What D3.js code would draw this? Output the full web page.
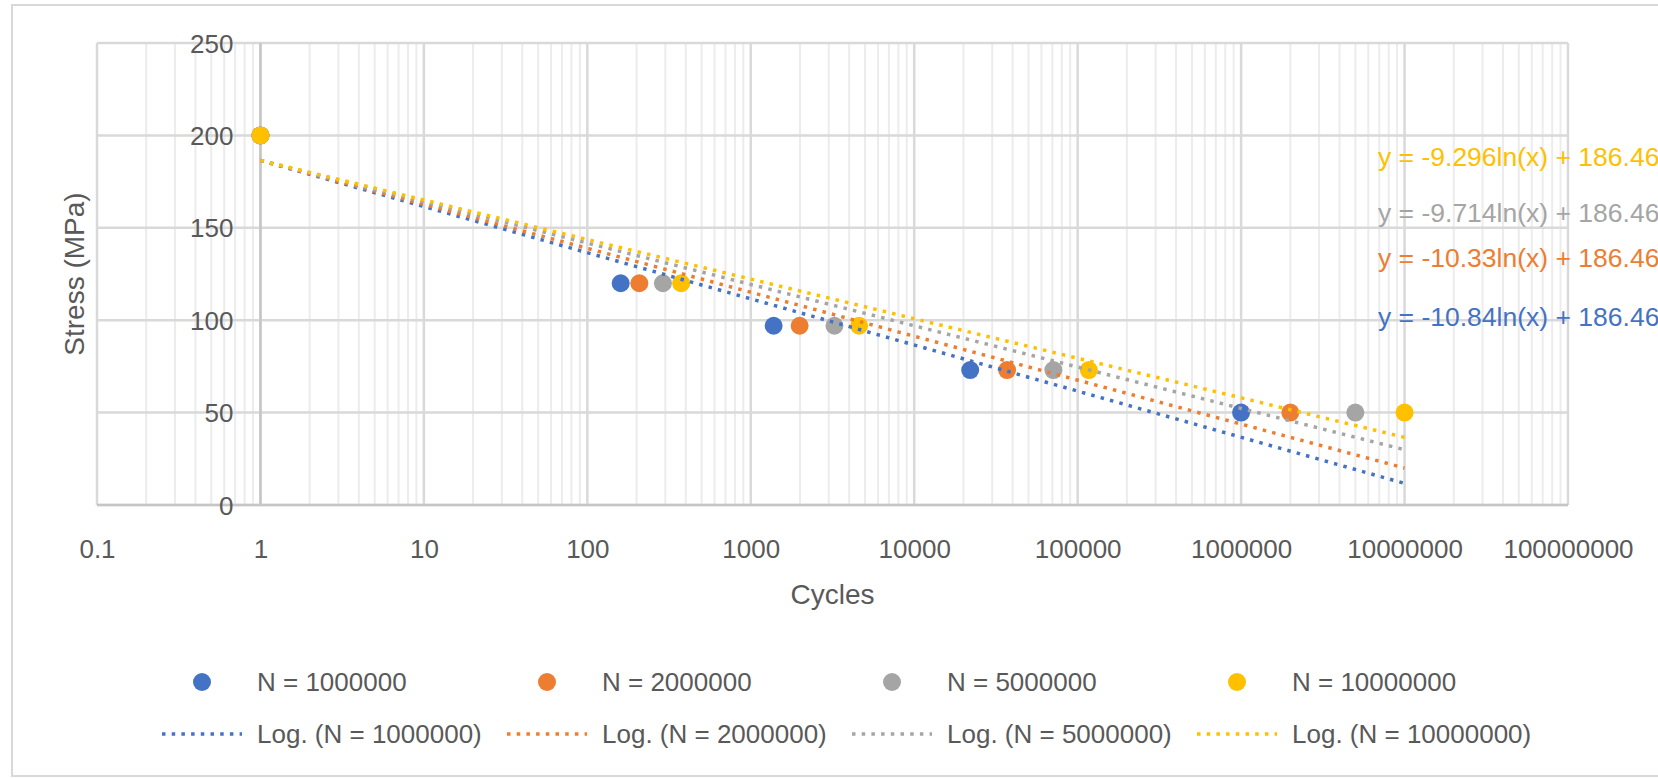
<!DOCTYPE html>
<html lang="en">
<head>
    <meta charset="UTF-8">
    <script src="https://cdn.jsdelivr.net/npm/d3@7"></script>
    <title>S-N curves</title>
    <style>
        body { margin: 0; background: #fff; }
        text { font-family: "Liberation Sans", Arial, sans-serif; fill: #595959; }
    </style>
</head>
<body>
<script>
    // Data
    const seriesNames = ["N = 1000000", "N = 2000000", "N = 5000000", "N = 10000000"];
    const stress = [200, 120, 97, 73, 50];
    const cyclesN1 = [1, 160, 1380, 22000, 1000000];
    const cyclesN2 = [1, 208, 1990, 37000, 2000000];
    const cyclesN5 = [1, 290, 3250, 71000, 5000000];
    const cyclesN10 = [1, 375, 4600, 117000, 10000000];

    // Log trendlines: value at x = 1 and at x = 1e7
    const trendX = [1, 10000000];
    const trendStart = [186.46, 186.46, 186.46, 186.46];
    const trendEnd = [11.7, 20.0, 29.9, 36.6];
    const equations = [
        "y = -10.84ln(x) + 186.46",
        "y = -10.33ln(x) + 186.46",
        "y = -9.714ln(x) + 186.46",
        "y = -9.296ln(x) + 186.46"
    ];

    const xTicks = [0.1, 1, 10, 100, 1000, 10000, 100000, 1000000, 10000000, 100000000];
    const xTickLabels = ["0.1", "1", "10", "100", "1000", "10000", "100000", "1000000", "10000000", "100000000"];
    const yTicks = [0, 50, 100, 150, 200, 250];

    const colors = ["#4472c4", "#ed7d31", "#a5a5a5", "#ffc000"];
    const allCycles = [cyclesN1, cyclesN2, cyclesN5, cyclesN10];

    // Layout
    const W = 1658, H = 778;
    const plot = { left: 97, right: 1568, top: 43, bottom: 505 };
    const eqX = 1378;
    const eqY = [317, 258, 213, 157];
    const dotDash = "3.5 6.2";

    const svg = d3.select("body").append("svg")
        .attr("width", W)
        .attr("height", H);

    // outer chart border
    svg.append("rect")
        .attr("x", 12).attr("y", 5)
        .attr("width", W + 20).attr("height", H - 7)
        .attr("fill", "none")
        .attr("stroke", "#d9d9d9")
        .attr("stroke-width", 2);

    const x = d3.scaleLog()
        .domain([0.1, 100000000])
        .range([plot.left, plot.right]);

    const y = d3.scaleLinear()
        .domain([0, 250])
        .range([plot.bottom, plot.top]);

    // minor vertical gridlines
    const minor = [];
    for (let k = -1; k < 8; k++) {
        for (let m = 2; m < 10; m++) minor.push(m * Math.pow(10, k));
    }
    svg.append("g").selectAll("line")
        .data(minor)
        .join("line")
        .attr("x1", d => x(d)).attr("x2", d => x(d))
        .attr("y1", plot.top).attr("y2", plot.bottom)
        .attr("stroke", "#ececec")
        .attr("stroke-width", 2);

    // major vertical gridlines
    svg.append("g").selectAll("line")
        .data(xTicks)
        .join("line")
        .attr("x1", d => x(d)).attr("x2", d => x(d))
        .attr("y1", plot.top).attr("y2", plot.bottom)
        .attr("stroke", "#d9d9d9")
        .attr("stroke-width", 2.5);

    // horizontal gridlines
    svg.append("g").selectAll("line")
        .data(yTicks)
        .join("line")
        .attr("x1", plot.left).attr("x2", plot.right)
        .attr("y1", d => y(d)).attr("y2", d => y(d))
        .attr("stroke", "#d9d9d9")
        .attr("stroke-width", 2.5);

    // axis lines (vertical axis crosses at x = 1)
    svg.append("line")
        .attr("x1", plot.left).attr("x2", plot.right)
        .attr("y1", y(0)).attr("y2", y(0))
        .attr("stroke", "#c6c6c6").attr("stroke-width", 2.5);
    svg.append("line")
        .attr("x1", x(1)).attr("x2", x(1))
        .attr("y1", plot.top).attr("y2", plot.bottom)
        .attr("stroke", "#c6c6c6").attr("stroke-width", 2.5);

    // x axis labels
    const xAxis = svg.append("g")
        .attr("transform", "translate(0," + plot.bottom + ")")
        .call(d3.axisBottom(x).tickValues(xTicks).tickFormat((d, i) => xTickLabels[i]).tickSize(0));
    xAxis.select(".domain").remove();
    xAxis.selectAll("text")
        .attr("y", 44).attr("dy", "0.35em")
        .style("font-size", "26px")
        .attr("fill", "#595959");

    // y axis labels
    const yAxis = svg.append("g")
        .attr("transform", "translate(" + x(1) + ",0)")
        .call(d3.axisLeft(y).tickValues(yTicks).tickSize(0).tickPadding(27));
    yAxis.select(".domain").remove();
    yAxis.selectAll("text")
        .attr("dy", "0.35em")
        .style("font-size", "26px")
        .attr("fill", "#595959");

    // axis titles
    svg.append("text")
        .attr("transform", "translate(74," + (plot.top + plot.bottom) / 2 + ") rotate(-90)")
        .attr("text-anchor", "middle")
        .attr("dy", "0.35em")
        .style("font-size", "28px")
        .text("Stress (MPa)");

    svg.append("text")
        .attr("x", (plot.left + plot.right) / 2)
        .attr("y", 594)
        .attr("text-anchor", "middle")
        .attr("dy", "0.35em")
        .style("font-size", "28px")
        .text("Cycles");

    // markers
    allCycles.forEach((cyc, s) => {
        svg.append("g").selectAll("circle")
            .data(cyc.map((c, i) => ({ c: c, v: stress[i] })))
            .join("circle")
            .attr("cx", d => x(d.c))
            .attr("cy", d => y(d.v))
            .attr("r", 9)
            .attr("fill", colors[s]);
    });

    // trendlines on top of markers
    const line = d3.line()
        .x(d => x(d[0]))
        .y(d => y(d[1]));

    colors.forEach((col, s) => {
        svg.append("path")
            .datum([[trendX[0], trendStart[s]], [trendX[1], trendEnd[s]]])
            .attr("d", line)
            .attr("fill", "none")
            .attr("stroke", col)
            .attr("stroke-width", 3.5)
            .attr("stroke-dasharray", dotDash);
    });

    // trendline equations
    equations.forEach((eq, s) => {
        svg.append("text")
            .attr("x", eqX)
            .attr("y", eqY[s])
            .attr("dy", "0.35em")
            .style("font-size", "26.5px")
            .style("fill", colors[s])
            .text(eq);
    });

    // legend
    const legend = svg.append("g");
    const colStep = 345;
    seriesNames.forEach((name, s) => {
        const x0 = 162 + s * colStep;
        legend.append("circle")
            .attr("cx", x0 + 40).attr("cy", 682)
            .attr("r", 9)
            .attr("fill", colors[s]);
        legend.append("text")
            .attr("x", x0 + 95).attr("y", 682)
            .attr("dy", "0.35em")
            .style("font-size", "26px")
            .text(name);
        legend.append("line")
            .attr("x1", x0).attr("x2", x0 + 80)
            .attr("y1", 734).attr("y2", 734)
            .attr("stroke", colors[s])
            .attr("stroke-width", 3.5)
            .attr("stroke-dasharray", dotDash);
        legend.append("text")
            .attr("x", x0 + 95).attr("y", 734)
            .attr("dy", "0.35em")
            .style("font-size", "26px")
            .text("Log. (" + name + ")");
    });
</script>
</body>
</html>
